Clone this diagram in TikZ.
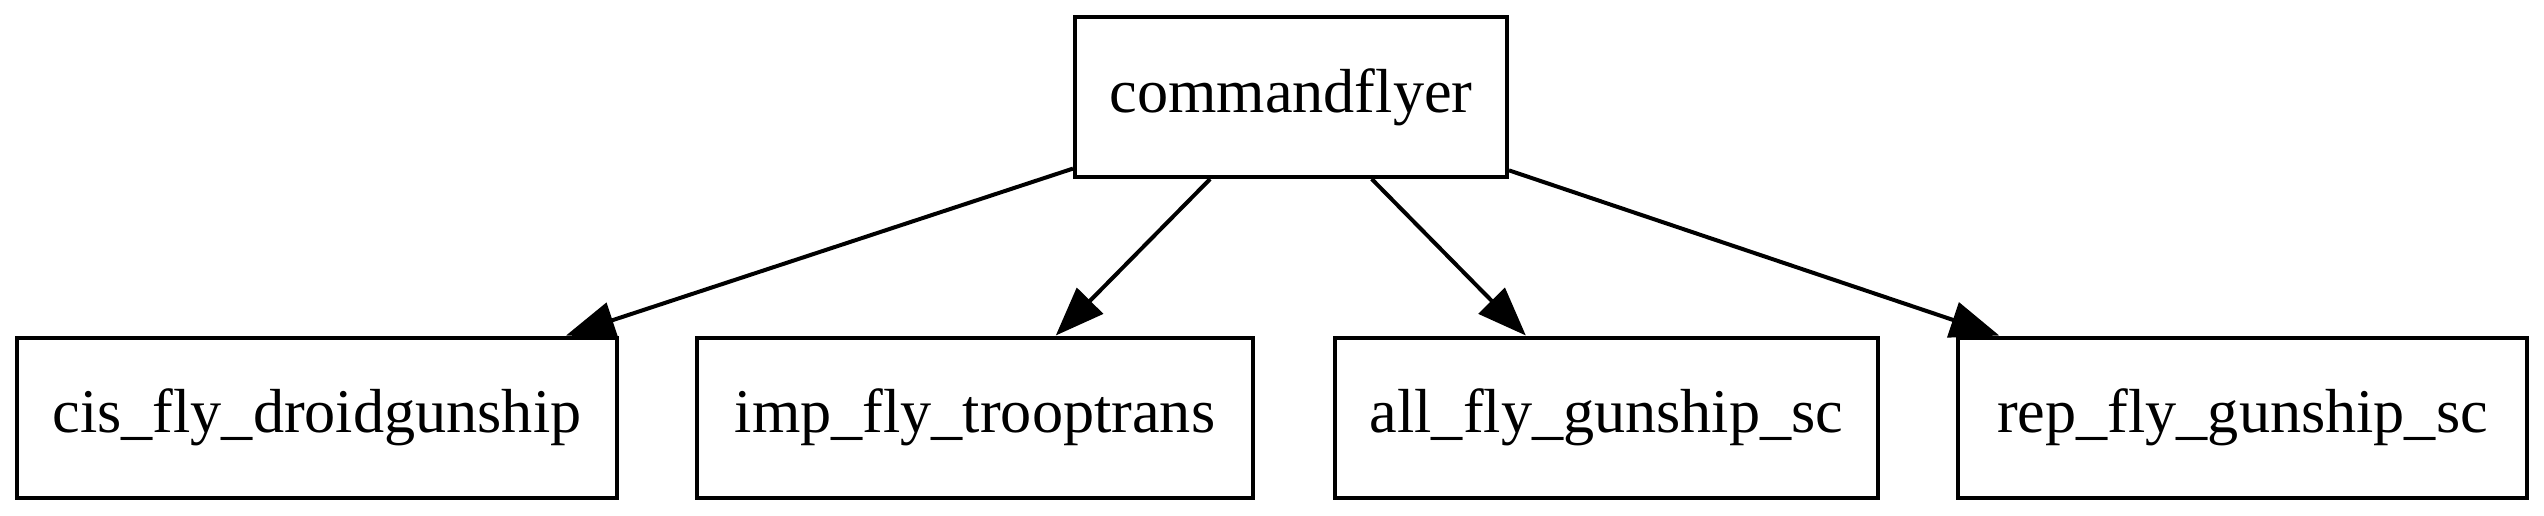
\documentclass[tikz,border=0pt]{standalone}
\usepackage{fontspec}
\setmainfont{Liberation Serif}
\usetikzlibrary{arrows.meta}

\begin{document}
\begin{tikzpicture}[x=0.225pt,y=-0.225pt,
    box/.style={draw=black,line width=0.9pt,minimum height=36pt,inner sep=0pt,
      font=\fontsize{14pt}{16pt}\selectfont},
    link/.style={line width=0.9pt,-{Triangle[length=11pt,width=8.2pt]}}]
  \useasboundingbox (0,0) rectangle (2544,516);
  \node[box,minimum width=97.2pt] (cmd) at (1291,97) {commandflyer};
  \foreach \name/\txt/\w/\x in {cis/cis\_fly\_droidgunship/135pt/317,
      imp/imp\_fly\_trooptrans/125.1pt/975,
      all/all\_fly\_gunship\_sc/122.2pt/1606.5,
      rep/rep\_fly\_gunship\_sc/128pt/2242.5}{
    \node[box,minimum width=\w] (\name) at (\x,417.5) {\txt};
    \draw[link] (cmd) -- (\name);
  }
\end{tikzpicture}
\end{document}
